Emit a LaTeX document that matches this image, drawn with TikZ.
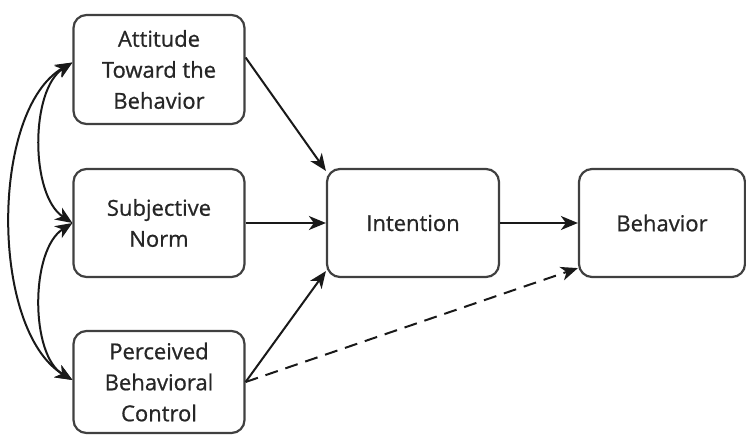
\documentclass[tikz,border=0pt]{standalone}
\usepackage{fontspec}
\setmainfont{Open Sans}[FakeBold=1]
\usetikzlibrary{arrows.meta}
\begin{document}
\begin{tikzpicture}[x=1pt,y=-1pt,
  box/.style={draw=black!75,line width=2.2pt,rounded corners=13pt,align=center,
    font=\fontsize{22}{31}\selectfont\addfontfeatures{FakeBold=0.8},text=black!85,inner sep=0pt},
  arr/.style={line width=2pt,draw=black!90,-{Stealth[length=17pt,width=14pt,inset=5pt]}},
  darr/.style={line width=2pt,draw=black!90,{Stealth[length=17pt,width=14pt,inset=5pt]}-{Stealth[length=17pt,width=14pt,inset=5pt]}}]
\useasboundingbox (0,0) rectangle (746,435);
\node[box,minimum width=171pt,minimum height=109pt] (att) at (159,69.5) {Attitude\\Toward the\\Behavior};
\node[box,minimum width=171pt,minimum height=108pt] (sn) at (159,223) {Subjective\\Norm};
\node[box,minimum width=171pt,minimum height=102pt] (pbc) at (159,382) {Perceived\\Behavioral\\Control};
\node[box,minimum width=172pt,minimum height=108pt] (int) at (413,223) {Intention};
\node[box,minimum width=166pt,minimum height=108pt] (beh) at (662,223) {Behavior};
\draw[arr] ([yshift=12pt]att.east) -- ([shift={(0pt,-3pt)}]int.north west);
\draw[arr] (sn.east) -- (int.west);
\draw[arr] (pbc.east) -- ([yshift=7pt]int.south west);
\draw[arr] (int.east) -- (beh.west);
\draw[arr,dashed,dash pattern=on 13pt off 8pt] (pbc.east) -- ([yshift=10pt]beh.south west);
\draw[darr] ([yshift=7pt]att.west) .. controls (-10,110) and (-10,330) .. ([yshift=2pt]pbc.west);
\draw[darr] ([yshift=7pt]att.west) .. controls (30,90) and (30,195) .. (sn.west);
\draw[darr] (sn.west) .. controls (30,250) and (30,355) .. ([yshift=2pt]pbc.west);
\end{tikzpicture}
\end{document}
